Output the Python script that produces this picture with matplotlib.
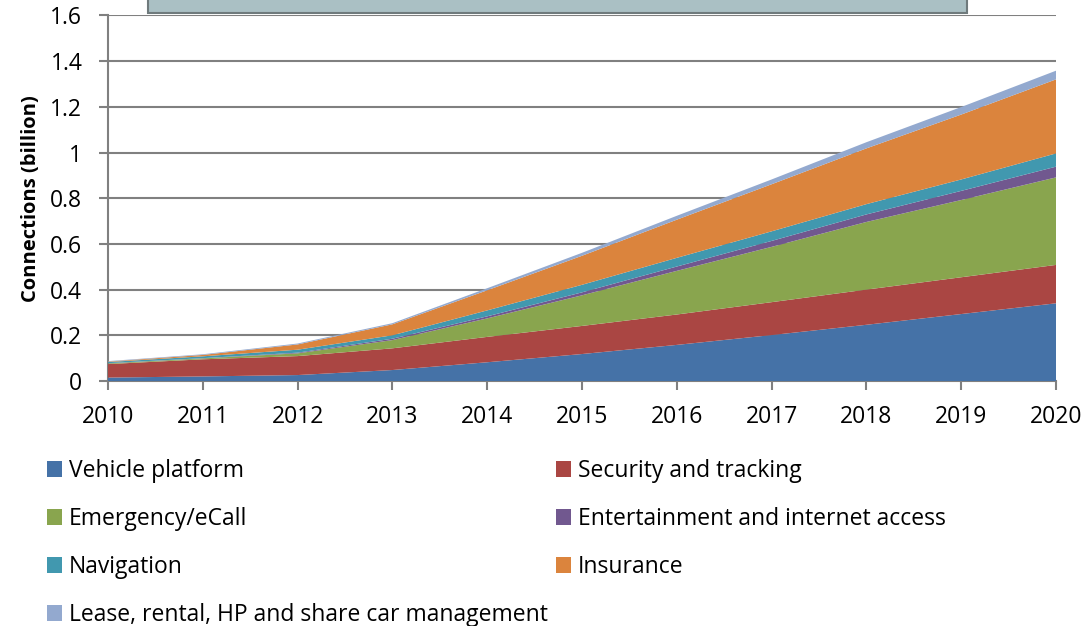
import matplotlib
matplotlib.use("Agg")
import matplotlib.pyplot as plt
from matplotlib.patches import Rectangle, Patch

plt.rcParams['font.family'] = ['Open Sans', 'DejaVu Sans']

years = [2010, 2011, 2012, 2013, 2014, 2015, 2016, 2017, 2018, 2019, 2020]

# connections in billions, per segment (stacked)
vehicle_platform = [0.015, 0.020, 0.026, 0.048, 0.082, 0.118, 0.158, 0.201, 0.246, 0.293, 0.340]
security_tracking = [0.059, 0.075, 0.083, 0.095, 0.111, 0.123, 0.133, 0.144, 0.154, 0.161, 0.168]
emergency_ecall = [0.003, 0.004, 0.012, 0.036, 0.081, 0.134, 0.191, 0.242, 0.296, 0.338, 0.383]
entertainment = [0.001, 0.001, 0.003, 0.006, 0.009, 0.013, 0.019, 0.026, 0.033, 0.040, 0.047]
navigation = [0.005, 0.008, 0.013, 0.015, 0.026, 0.033, 0.038, 0.042, 0.045, 0.050, 0.058]
insurance = [0.002, 0.006, 0.023, 0.048, 0.088, 0.127, 0.167, 0.206, 0.244, 0.284, 0.324]
lease_rental = [0.002, 0.003, 0.004, 0.005, 0.009, 0.013, 0.017, 0.021, 0.027, 0.033, 0.038]

labels = ['Vehicle platform', 'Security and tracking', 'Emergency/eCall',
          'Entertainment and internet access', 'Navigation', 'Insurance',
          'Lease, rental, HP and share car management']
colors = ['#4572a7', '#aa4643', '#89a54e', '#71588f', '#4198af', '#db843d', '#93a9cf']

y_ticks = [0, 0.2, 0.4, 0.6, 0.8, 1.0, 1.2, 1.4, 1.6]
y_ticklabels = ['0', '0.2', '0.4', '0.6', '0.8', '1', '1.2', '1.4', '1.6']

fig = plt.figure(figsize=(10.9, 6.26), dpi=100)
ax = fig.add_axes([108 / 1090, 1 - 381 / 626, (1056 - 108) / 1090, (381 - 15.4) / 626])

series = [vehicle_platform, security_tracking, emergency_ecall, entertainment,
          navigation, insurance, lease_rental]
ax.stackplot(years, *series, colors=colors, linewidth=0, zorder=3)

grey = '#808080'
ax.set_xlim(2010, 2020)
ax.set_ylim(0, 1.6)
ax.set_xticks(years)
ax.set_xticklabels([str(y) for y in years], fontsize=16.5)
ax.set_yticks(y_ticks)
ax.set_yticklabels(y_ticklabels, fontsize=16.5)
ax.grid(axis='y', color=grey, linewidth=1.5, zorder=1)
ax.tick_params(axis='both', direction='out', length=6.5, width=1.5, color=grey)
ax.tick_params(axis='x', pad=11)
ax.tick_params(axis='y', pad=12)
for s in ['top', 'right']:
    ax.spines[s].set_visible(False)
for s in ['left', 'bottom']:
    ax.spines[s].set_color(grey)
    ax.spines[s].set_linewidth(1.5)
ax.set_ylabel('Connections (billion)', fontsize=14.5, fontweight='bold')
ax.yaxis.set_label_coords(-0.071, 0.5)

# title box cut off at the top
fig.patches.append(Rectangle((148 / 1090, 1 - 13 / 626), (967 - 148) / 1090, 0.05,
                             transform=fig.transFigure, facecolor='#aac0c4',
                             edgecolor='#6f7a7c', linewidth=1.5, zorder=5))

handles = [Patch(facecolor=c, edgecolor='none') for c in colors]
left_idx = [0, 2, 4, 6]
right_idx = [1, 3, 5]
common = dict(frameon=False, fontsize=16.5, handlelength=0.65, handleheight=0.65,
              handletextpad=0.3, labelspacing=1.05, borderpad=0, borderaxespad=0)
fig.legend([handles[i] for i in left_idx], [labels[i] for i in left_idx],
           loc='upper left', bbox_to_anchor=(47 / 1090, 1 - 459 / 626), **common)
fig.legend([handles[i] for i in right_idx], [labels[i] for i in right_idx],
           loc='upper left', bbox_to_anchor=(556 / 1090, 1 - 459 / 626), **common)

fig.savefig('out.png', dpi=100)
